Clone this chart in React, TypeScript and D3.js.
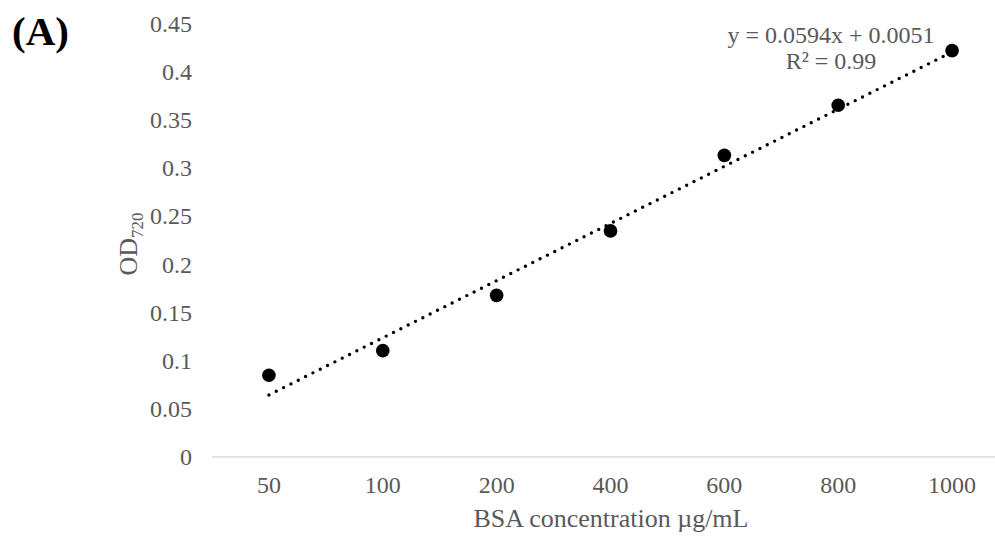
import React from "react";
import * as d3 from "d3";

// BSA standard curve, panel (A)
const categories = ["50", "100", "200", "400", "600", "800", "1000"];
const odValues = [0.085, 0.1105, 0.168, 0.235, 0.3135, 0.3655, 0.4223];
const yTicks = [0, 0.05, 0.1, 0.15, 0.2, 0.25, 0.3, 0.35, 0.4, 0.45];
const yTickLabels = ["0", "0.05", "0.1", "0.15", "0.2", "0.25", "0.3", "0.35", "0.4", "0.45"];
const trendSlope = 0.0594;
const trendIntercept = 0.0051;
const equationText = "y = 0.0594x + 0.0051";
const r2Text = "R² = 0.99";

const W = 995;
const H = 536;
const FONT = "'Liberation Serif', 'Times New Roman', serif";
const GRAY = "#595959";

const App = () => {
  const x = d3.scalePoint<string>().domain(categories).range([212, 1009]).padding(0.5);
  const y = d3.scaleLinear().domain([0, 0.45]).range([457, 24]);

  // trendline over category index 1..n (Excel style)
  const trendPts: [number, number][] = [1, categories.length].map((i) => [
    x(categories[i - 1]) as number,
    y(trendSlope * i + trendIntercept),
  ]);
  const trendPath = d3.line()(trendPts) || "";

  return (
    <svg
      width={W}
      height={H}
      style={{ position: "absolute", left: 0, top: 0, background: "#fff" }}
      fontFamily={FONT}
    >
      <rect width={W} height={H} fill="#fff" />

      {/* x axis line */}
      <line x1={212} x2={1009} y1={y(0)} y2={y(0)} stroke="#d9d9d9" strokeWidth={1.5} />

      {/* y tick labels */}
      {yTicks.map((t, i) => (
        <text key={t} x={192} y={y(t) + 8} textAnchor="end" fontSize={24} fill={GRAY}>
          {yTickLabels[i]}
        </text>
      ))}

      {/* x tick labels */}
      {categories.map((c) => (
        <text key={c} x={x(c)} y={493} textAnchor="middle" fontSize={24} fill={GRAY}>
          {c}
        </text>
      ))}

      {/* trendline */}
      <path
        d={trendPath}
        fill="none"
        stroke="#000"
        strokeWidth={3.4}
        strokeLinecap="round"
        strokeDasharray="0 8.2"
      />

      {/* data points */}
      {categories.map((c, i) => (
        <circle key={c} cx={x(c)} cy={y(odValues[i])} r={6.8} fill="#000" />
      ))}

      {/* equation */}
      <text x={831} y={43} textAnchor="middle" fontSize={24} fill={GRAY}>
        {equationText}
      </text>
      <text x={831} y={69} textAnchor="middle" fontSize={24} fill={GRAY}>
        {r2Text}
      </text>

      {/* axis titles */}
      <text x={611} y={527} textAnchor="middle" fontSize={26} fill={GRAY}>
        BSA concentration µg/mL
      </text>
      <text
        transform={`translate(137, 244) rotate(-90)`}
        textAnchor="middle"
        fontSize={26}
        fill={GRAY}
      >
        OD
        <tspan fontSize={17} dy={6}>
          720
        </tspan>
      </text>

      {/* panel label */}
      <text x={12} y={45} fontSize={41} fontWeight="bold" fill="#000">
        (A)
      </text>
    </svg>
  );
};

export default App;
